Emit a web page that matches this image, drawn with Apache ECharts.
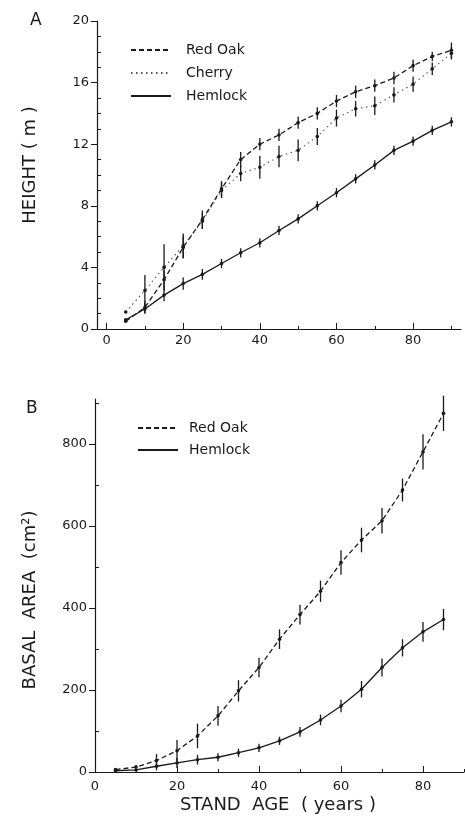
<!DOCTYPE html>
<html>
<head>
<meta charset="utf-8">
<script src="https://cdn.jsdelivr.net/npm/echarts@6/dist/echarts.min.js"></script>
<style>
  html, body { margin: 0; padding: 0; background: #fff; }
  #chart { width: 465px; height: 821px; }
</style>
</head>
<body>
<div id="chart"></div>
<script>
// panel A: height (m)
const agesA = [5, 10, 15, 20, 25, 30, 35, 40, 45, 50, 55, 60, 65, 70, 75, 80, 85, 90]
const redOakHeight = [0.5, 1.4, 3.2, 5.3, 7.1, 9.1, 11.0, 12.0, 12.6, 13.4, 14.0, 14.8, 15.4, 15.8, 16.3, 17.1, 17.7, 18.1]
const redOakHeightErr = [0, 0.4, 0.6, 0.7, 0.6, 0.5, 0.5, 0.4, 0.4, 0.4, 0.4, 0.4, 0.4, 0.4, 0.4, 0.4, 0.3, 0.5]
const cherryHeight = [1.1, 2.5, 4.0, 5.4, 7.0, 9.0, 10.1, 10.5, 11.2, 11.6, 12.5, 13.7, 14.3, 14.5, 15.2, 15.9, 16.9, 17.9]
const cherryHeightErr = [0, 1.0, 1.5, 0.8, 0.5, 0.5, 0.5, 0.75, 0.7, 0.7, 0.55, 0.55, 0.5, 0.6, 0.5, 0.5, 0.4, 0.4]
const hemlockHeight = [0.6, 1.3, 2.2, 2.95, 3.55, 4.25, 4.95, 5.6, 6.4, 7.15, 8.0, 8.85, 9.75, 10.65, 11.6, 12.2, 12.9, 13.45]
const hemlockHeightErr = [0, 0.3, 0.4, 0.4, 0.35, 0.3, 0.3, 0.3, 0.3, 0.3, 0.3, 0.3, 0.3, 0.3, 0.3, 0.3, 0.3, 0.3]

// panel B: basal area (cm2)
const agesB = [5, 10, 15, 20, 25, 30, 35, 40, 45, 50, 55, 60, 65, 70, 75, 80, 85]
const redOakBasal = [6, 12, 28, 52, 88, 137, 198, 255, 324, 384, 441, 511, 566, 613, 688, 781, 875]
const redOakBasalErr = [0, 5, 16, 26, 30, 24, 26, 24, 24, 24, 26, 30, 30, 31, 28, 43, 43]
const hemlockBasal = [3, 5, 14, 22, 30, 36, 47, 59, 76, 98, 127, 161, 202, 255, 303, 342, 372]
const hemlockBasalErr = [0, 3, 10, 12, 12, 10, 10, 10, 10, 12, 13, 15, 20, 22, 21, 24, 26]

const ticksAX = [0, 20, 40, 60, 80]
const minorAX = [10, 30, 50, 70, 90]
const ticksAY = [0, 4, 8, 12, 16, 20]
const minorAY = [1, 2, 3, 5, 6, 7, 9, 10, 11, 13, 14, 15, 17, 18, 19]
const ticksBX = [0, 20, 40, 60, 80]
const minorBX = [10, 30, 50, 70, 90]
const ticksBY = [0, 200, 400, 600, 800]
const minorBY = [100, 300, 500, 700, 900]

const ink = '#1a1a1a'
const font = 'DejaVu Sans'

const myChart = echarts.init(document.getElementById('chart'))

const pairs = (xs, ys) => xs.map((x, i) => [x, ys[i]])
const triples = (xs, ys, es) => xs.map((x, i) => [x, ys[i], es[i]])

const errSeries = (name, data, axis) => ({
  name: name,
  type: 'custom',
  xAxisIndex: axis,
  yAxisIndex: axis,
  data: data,
  z: 5,
  renderItem: (params, api) => {
    const x = api.value(0)
    const y = api.value(1)
    const e = api.value(2)
    const p = api.coord([x, y])
    const lo = api.coord([x, y - e])
    const hi = api.coord([x, y + e])
    return {
      type: 'group',
      children: [
        {
          type: 'line',
          shape: { x1: p[0], y1: hi[1], x2: p[0], y2: lo[1] },
          style: { stroke: ink, lineWidth: 1.3 }
        },
        {
          type: 'circle',
          shape: { cx: p[0], cy: p[1], r: 1.8 },
          style: { fill: ink }
        }
      ]
    }
  }
})

const lineSeries = (name, data, axis, type, color, width) => ({
  name: name,
  type: 'line',
  xAxisIndex: axis,
  yAxisIndex: axis,
  data: data,
  symbol: 'none',
  silent: true,
  lineStyle: { color: color, width: width, type: type },
  itemStyle: { color: color }
})

const mainX = (gridIndex, min, max, ticks, labels, margin) => ({
  type: 'value',
  gridIndex: gridIndex,
  min: min,
  max: max,
  splitLine: { show: false },
  axisLine: { onZero: false, lineStyle: { color: ink, width: 1.2 } },
  axisTick: { inside: true, length: 6, customValues: ticks, lineStyle: { color: ink } },
  axisLabel: { customValues: labels, margin: margin, color: ink, fontFamily: font, fontSize: 13 }
})

const minorX = (gridIndex, min, max, ticks) => ({
  type: 'value',
  gridIndex: gridIndex,
  min: min,
  max: max,
  position: 'bottom',
  splitLine: { show: false },
  axisLine: { show: false, onZero: false },
  axisTick: { inside: true, length: 3, customValues: ticks, lineStyle: { color: ink } },
  axisLabel: { show: false }
})

const mainY = (gridIndex, min, max, ticks, margin) => ({
  type: 'value',
  gridIndex: gridIndex,
  min: min,
  max: max,
  splitLine: { show: false },
  axisLine: { show: true, onZero: false, lineStyle: { color: ink, width: 1.2 } },
  axisTick: { show: true, inside: false, length: 6, customValues: ticks, lineStyle: { color: ink } },
  axisLabel: { customValues: ticks, margin: margin, color: ink, fontFamily: font, fontSize: 13 }
})

const minorY = (gridIndex, min, max, ticks) => ({
  type: 'value',
  gridIndex: gridIndex,
  min: min,
  max: max,
  position: 'left',
  splitLine: { show: false },
  axisLine: { show: false, onZero: false },
  axisTick: { show: true, inside: true, length: 4, customValues: ticks, lineStyle: { color: ink } },
  axisLabel: { show: false }
})

const legendBase = {
  orient: 'vertical',
  itemWidth: 40,
  itemHeight: 10,
  selectedMode: false,
  itemStyle: { color: 'rgba(0,0,0,0)', borderWidth: 0, opacity: 0 }
}

const option = {
  animation: false,
  backgroundColor: '#fff',
  grid: [
    { left: 97, top: 21, width: 364, height: 308 },
    { left: 95, top: 399, width: 369, height: 373 }
  ],
  legend: [
    Object.assign({}, legendBase, {
      data: ['Red Oak', 'Cherry', 'Hemlock'],
      left: 125,
      top: 38,
      itemGap: 9,
      textStyle: { color: ink, fontFamily: font, fontSize: 14, padding: [0, 0, 0, 10] }
    }),
    Object.assign({}, legendBase, {
      data: ['Red Oak', 'Hemlock'],
      left: 132,
      top: 416,
      itemGap: 8,
      textStyle: { color: ink, fontFamily: font, fontSize: 14, padding: [0, 0, 0, 6] }
    })
  ],
  xAxis: [
    mainX(0, -2.5, 92.5, ticksAX, ticksAX, 5),
    mainX(1, 0, 90, ticksBX, ticksBX, 8),
    minorX(0, -2.5, 92.5, minorAX),
    minorX(1, 0, 90, minorBX)
  ],
  yAxis: [
    mainY(0, 0, 20, ticksAY, 8),
    mainY(1, 0, 910, ticksBY, 8),
    minorY(0, 0, 20, minorAY),
    minorY(1, 0, 910, minorBY)
  ],
  graphic: [
    { type: 'text', left: 30, top: 12, style: { text: 'A', fontSize: 17, fontFamily: font, fill: ink } },
    { type: 'text', left: 26, top: 400, style: { text: 'B', fontSize: 17, fontFamily: font, fill: ink } },
    {
      type: 'text', x: 30, y: 165, rotation: Math.PI / 2,
      style: { text: 'HEIGHT ( m )', fontSize: 18, fontFamily: font, fill: ink, align: 'center', verticalAlign: 'middle' }
    },
    {
      type: 'text', x: 30, y: 600, rotation: Math.PI / 2,
      style: { text: 'BASAL  AREA  (cm²)', fontSize: 18, fontFamily: font, fill: ink, align: 'center', verticalAlign: 'middle' }
    },
    {
      type: 'text', x: 278, y: 805,
      style: { text: 'STAND  AGE  ( years )', fontSize: 18, fontFamily: font, fill: ink, align: 'center', verticalAlign: 'middle' }
    }
  ],
  series: [
    lineSeries('Red Oak', pairs(agesA, redOakHeight), 0, [5, 3], ink, 1.3),
    lineSeries('Cherry', pairs(agesA, cherryHeight), 0, [1.5, 3.5], '#555', 1.1),
    lineSeries('Hemlock', pairs(agesA, hemlockHeight), 0, 'solid', ink, 1.3),
    errSeries('Red Oak err', triples(agesA, redOakHeight, redOakHeightErr), 0),
    errSeries('Cherry err', triples(agesA, cherryHeight, cherryHeightErr), 0),
    errSeries('Hemlock err', triples(agesA, hemlockHeight, hemlockHeightErr), 0),
    lineSeries('Red Oak', pairs(agesB, redOakBasal), 1, [5, 3], ink, 1.3),
    lineSeries('Hemlock', pairs(agesB, hemlockBasal), 1, 'solid', ink, 1.3),
    errSeries('Red Oak err B', triples(agesB, redOakBasal, redOakBasalErr), 1),
    errSeries('Hemlock err B', triples(agesB, hemlockBasal, hemlockBasalErr), 1)
  ]
}

myChart.setOption(option)
</script>
</body>
</html>
